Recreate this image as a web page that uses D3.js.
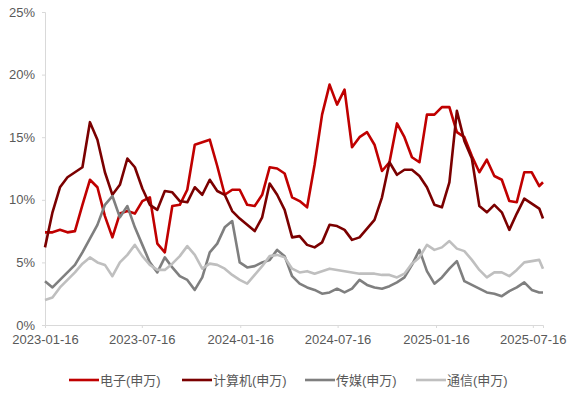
<!DOCTYPE html>
<html>
<head>
<meta charset="utf-8">
<script src="https://cdn.jsdelivr.net/npm/d3@7"></script>
<style>
  body { margin: 0; background: #fff; }
  .chart text { font-family: "Liberation Sans", Arial, "Noto Sans CJK SC", sans-serif; fill: #595959; }
</style>
</head>
<body>
<div class="chart"></div>
<script>
// biweekly samples
const dates = [
  '2023-01-16','2023-01-30','2023-02-13','2023-02-27','2023-03-13','2023-03-27','2023-04-10','2023-04-24',
  '2023-05-08','2023-05-22','2023-06-05','2023-06-19','2023-07-03','2023-07-17','2023-07-31','2023-08-14',
  '2023-08-28','2023-09-11','2023-09-25','2023-10-09','2023-10-23','2023-11-06','2023-11-20','2023-12-04',
  '2023-12-18','2024-01-01','2024-01-15','2024-01-29','2024-02-12','2024-02-26','2024-03-11','2024-03-25',
  '2024-04-08','2024-04-22','2024-05-06','2024-05-20','2024-06-03','2024-06-17','2024-07-01','2024-07-15',
  '2024-07-29','2024-08-12','2024-08-26','2024-09-09','2024-09-23','2024-10-07','2024-10-21','2024-11-04',
  '2024-11-18','2024-12-02','2024-12-16','2024-12-30','2025-01-13','2025-01-27','2025-02-10','2025-02-24',
  '2025-03-10','2025-03-24','2025-04-07','2025-04-21','2025-05-05','2025-05-19','2025-06-02','2025-06-16',
  '2025-06-30','2025-07-14','2025-07-28','2025-08-04'
];

const dianzi = [
  7.4, 7.4, 7.6, 7.4, 7.5, 9.6, 11.6, 11.0, 8.7, 7.0, 8.9, 9.1, 8.9, 9.9, 10.2, 6.5,
  5.8, 9.5, 9.6, 10.8, 14.4, 14.6, 14.8, 12.7, 10.4, 10.8, 10.8, 9.6, 9.5, 10.4, 12.6, 12.5,
  12.1, 10.2, 9.9, 9.4, 12.8, 16.8, 19.2, 17.6, 18.8, 14.2, 15.0, 15.4, 14.4, 12.3, 13.0, 16.1,
  15.0, 13.4, 13.0, 16.8, 16.8, 17.4, 17.4, 15.4, 15.0, 13.5, 12.2, 13.2, 11.9, 11.6, 9.9, 9.8,
  12.2, 12.2, 11.1, 11.4
];
const jisuanji = [
  6.2, 9.0, 11.0, 11.8, 12.2, 12.6, 16.2, 14.8, 12.2, 10.4, 11.2, 13.3, 12.6, 10.9, 9.6, 9.2,
  10.7, 10.6, 9.9, 9.8, 11.0, 10.4, 11.6, 10.7, 10.4, 9.1, 8.5, 8.0, 7.5, 8.6, 11.3, 10.4,
  9.2, 7.0, 7.1, 6.4, 6.2, 6.6, 8.0, 7.9, 7.6, 6.8, 7.0, 7.7, 8.4, 10.2, 13.0, 12.0,
  12.4, 12.4, 11.9, 11.0, 9.6, 9.4, 11.4, 17.1, 14.7, 13.3, 9.5, 9.0, 9.6, 9.0, 7.6, 8.9,
  10.1, 9.7, 9.3, 8.5
];
const chuanmei = [
  3.5, 3.0, 3.6, 4.2, 4.8, 5.8, 6.9, 8.0, 9.6, 10.3, 8.6, 9.5, 7.8, 6.4, 5.0, 4.2,
  5.4, 4.6, 3.9, 3.6, 2.8, 3.8, 5.8, 6.5, 7.8, 8.3, 5.0, 4.6, 4.7, 5.0, 5.2, 6.0,
  5.5, 3.9, 3.3, 3.0, 2.8, 2.5, 2.6, 2.9, 2.6, 2.9, 3.6, 3.2, 3.0, 2.9, 3.1, 3.4,
  3.8, 4.8, 6.0, 4.3, 3.3, 3.8, 4.5, 5.1, 3.5, 3.2, 2.9, 2.6, 2.5, 2.3, 2.7, 3.0,
  3.4, 2.8, 2.6, 2.6
];
const tongxin = [
  2.0, 2.2, 3.0, 3.6, 4.2, 4.9, 5.4, 5.0, 4.8, 3.9, 5.0, 5.6, 6.4, 5.5, 4.8, 4.4,
  4.4, 4.9, 5.5, 6.3, 5.6, 4.5, 4.9, 4.8, 4.5, 4.0, 3.6, 3.3, 4.0, 4.7, 5.5, 5.6,
  5.4, 4.5, 4.2, 4.3, 4.1, 4.3, 4.5, 4.4, 4.3, 4.2, 4.1, 4.1, 4.1, 4.0, 4.0, 3.8,
  4.1, 4.9, 5.4, 6.4, 6.0, 6.2, 6.7, 6.1, 5.9, 5.2, 4.4, 3.8, 4.2, 4.2, 3.9, 4.4,
  5.0, 5.1, 5.2, 4.5
];

const seriesNames = ['电子(申万)', '计算机(申万)', '传媒(申万)', '通信(申万)'];
const seriesColors = ['#c00000', '#7b0000', '#7f7f7f', '#bfbfbf'];
const tickDates = ['2023-01-16', '2023-07-16', '2024-01-16', '2024-07-16', '2025-01-16', '2025-07-16'];
const yTicks = [0, 5, 10, 15, 20, 25];

const parse = d3.timeParse('%Y-%m-%d');
const x_dates = dates.map(parse);
const allSeries = [dianzi, jisuanji, chuanmei, tongxin];

const margin = { top: 12, right: 27, bottom: 71, left: 45 };
const width = 570 - margin.left - margin.right;
const height = 396 - margin.top - margin.bottom;

const svg = d3.select('.chart')
  .append('svg')
  .attr('width', 570)
  .attr('height', 396)
  .append('g')
  .attr('transform', `translate(${margin.left}, ${margin.top})`);

const xScale = d3.scaleTime()
  .domain([x_dates[0], x_dates[x_dates.length - 1]])
  .range([0, width]);

const yScale = d3.scaleLinear()
  .domain([0, 25])
  .range([height, 0]);

const yAxis = d3.axisLeft(yScale)
  .tickValues(yTicks)
  .tickSize(3)
  .tickPadding(7)
  .tickFormat(d => d + '%');

const xAxis = d3.axisBottom(xScale)
  .tickValues(tickDates.map(parse))
  .tickSize(3)
  .tickPadding(7)
  .tickFormat(d3.timeFormat('%Y-%m-%d'));

const gy = svg.append('g').call(yAxis);
const gx = svg.append('g')
  .attr('transform', `translate(0, ${height})`)
  .call(xAxis);

[gx, gy].forEach(g => {
  g.select('.domain').attr('stroke', '#d9d9d9');
  g.selectAll('.tick line').attr('stroke', '#d9d9d9');
  g.selectAll('.tick text').style('font-size', '13px');
});

const line = d3.line()
  .x((d, i) => xScale(x_dates[i]))
  .y(d => yScale(d));

allSeries.forEach((vals, k) => {
  svg.append('path')
    .datum(vals)
    .attr('fill', 'none')
    .attr('stroke', seriesColors[k])
    .attr('stroke-width', 2.6)
    .attr('stroke-linejoin', 'round')
    .attr('d', line);
});

// legend
const legendX = [69, 182, 305, 416];
const legend = svg.append('g')
  .attr('transform', `translate(${-margin.left}, ${380 - margin.top})`);

seriesNames.forEach((name, k) => {
  legend.append('line')
    .attr('x1', legendX[k]).attr('x2', legendX[k] + 30)
    .attr('y1', 0).attr('y2', 0)
    .attr('stroke', seriesColors[k])
    .attr('stroke-width', 2.6);
  legend.append('text')
    .attr('x', legendX[k] + 31)
    .attr('y', 0)
    .attr('dy', '0.35em')
    .style('font-size', '13px')
    .text(name);
});
</script>
</body>
</html>
